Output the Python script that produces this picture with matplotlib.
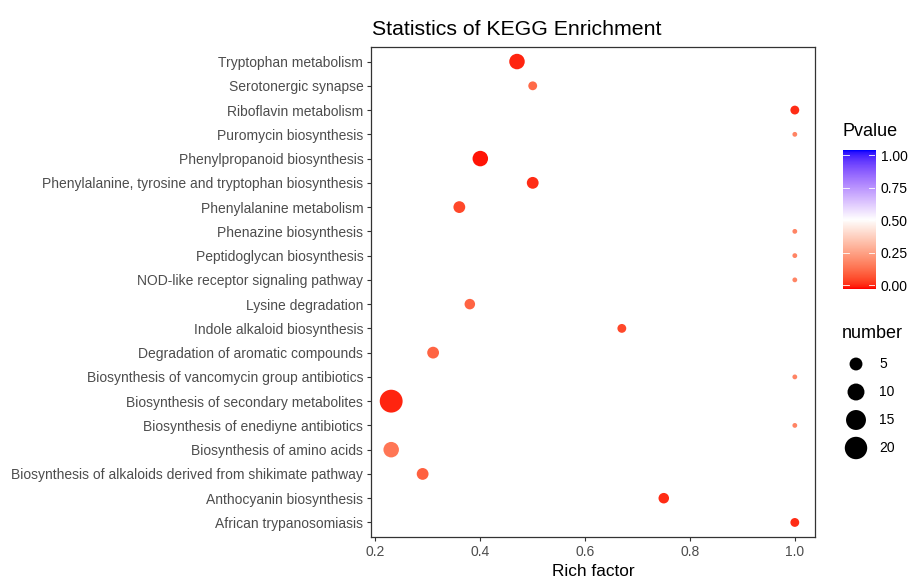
import numpy as np
import matplotlib
matplotlib.use("Agg")
import matplotlib.pyplot as plt
from matplotlib.colors import ListedColormap, Normalize

# pathways listed top to bottom as in the chart
pathways = [
    "Tryptophan metabolism",
    "Serotonergic synapse",
    "Riboflavin metabolism",
    "Puromycin biosynthesis",
    "Phenylpropanoid biosynthesis",
    "Phenylalanine, tyrosine and tryptophan biosynthesis",
    "Phenylalanine metabolism",
    "Phenazine biosynthesis",
    "Peptidoglycan biosynthesis",
    "NOD-like receptor signaling pathway",
    "Lysine degradation",
    "Indole alkaloid biosynthesis",
    "Degradation of aromatic compounds",
    "Biosynthesis of vancomycin group antibiotics",
    "Biosynthesis of secondary metabolites",
    "Biosynthesis of enediyne antibiotics",
    "Biosynthesis of amino acids",
    "Biosynthesis of alkaloids derived from shikimate pathway",
    "Anthocyanin biosynthesis",
    "African trypanosomiasis",
]
rich_factor = [0.47, 0.50, 1.00, 1.00, 0.40, 0.50, 0.36, 1.00, 1.00, 1.00,
               0.38, 0.67, 0.31, 1.00, 0.23, 1.00, 0.23, 0.29, 0.75, 1.00]
gene_number = [8, 2, 2, 1, 8, 4, 4, 1, 1, 1,
               3, 2, 4, 1, 21, 1, 8, 4, 3, 2]
pvalue = [0.02, 0.13, 0.03, 0.19, 0.01, 0.03, 0.07, 0.19, 0.19, 0.19,
          0.12, 0.07, 0.12, 0.19, 0.02, 0.19, 0.16, 0.11, 0.03, 0.03]

size_breaks = [5, 10, 15, 20]
cbar_ticks = [0.0, 0.25, 0.5, 0.75, 1.0]
x_ticks = [0.2, 0.4, 0.6, 0.8, 1.0]

FONT = "Liberation Sans"
GREY = "#4D4D4D"
W, H = 908, 578


# gradient red -> white -> blue, mixed in Lab space like ggplot's gradient2
def srgb_to_lab(rgb):
    c = np.asarray(rgb, float)
    lin = np.where(c <= 0.04045, c / 12.92, ((c + 0.055) / 1.055) ** 2.4)
    m = np.array([[0.4124, 0.3576, 0.1805],
                  [0.2126, 0.7152, 0.0722],
                  [0.0193, 0.1192, 0.9505]])
    xyz = m @ lin / np.array([0.95047, 1.0, 1.08883])
    f = np.where(xyz > 0.008856, np.cbrt(xyz), 7.787 * xyz + 16 / 116)
    return np.array([116 * f[1] - 16, 500 * (f[0] - f[1]), 200 * (f[1] - f[2])])


def lab_to_srgb(lab):
    L, a, b = lab
    fy = (L + 16) / 116
    f = np.array([fy + a / 500, fy, fy - b / 200])
    xyz = np.where(f ** 3 > 0.008856, f ** 3, (f - 16 / 116) / 7.787)
    xyz = xyz * np.array([0.95047, 1.0, 1.08883])
    m = np.array([[3.2406, -1.5372, -0.4986],
                  [-0.9689, 1.8758, 0.0415],
                  [0.0557, -0.2040, 1.0570]])
    lin = np.clip(m @ xyz, 0, 1)
    c = np.where(lin <= 0.0031308, 12.92 * lin, 1.055 * lin ** (1 / 2.4) - 0.055)
    return np.clip(c, 0, 1)


lab_red = srgb_to_lab([1, 0, 0])
lab_white = srgb_to_lab([1, 1, 1])
lab_blue = srgb_to_lab([0, 0, 1])
cols = []
for v in np.linspace(0, 1, 256):
    if v <= 0.5:
        t = v / 0.5
        lab = lab_red + (lab_white - lab_red) * t
    else:
        t = (v - 0.5) / 0.5
        lab = lab_white + (lab_blue - lab_white) * t
    cols.append(lab_to_srgb(lab))
cmap = ListedColormap(cols)
norm = Normalize(0, 1)

# ggplot-like area scale, range 1..6 mm
nmin, nmax = min(gene_number), max(gene_number)


def marker_area(n):
    n = np.asarray(n, float)
    size_mm = 1 + 5 * np.sqrt((n - nmin) / (nmax - nmin))
    d_px = 1.27 * (2.845 * size_mm + 0.945)
    return (d_px * 0.72) ** 2


plt.rcParams["font.family"] = [FONT, "DejaVu Sans"]
fig = plt.figure(figsize=(W / 100, H / 100), dpi=100)

# main panel
ax = fig.add_axes([371 / W, 1 - 537 / H, 444 / W, 490 / H])
ypos = np.arange(len(pathways), 0, -1)
ax.scatter(rich_factor, ypos, s=marker_area(gene_number),
           c=pvalue, cmap=cmap, norm=norm, linewidths=0, zorder=3)
ax.set_xlim(0.1915, 1.0385)
ax.set_ylim(0.4, len(pathways) + 0.6)
ax.set_yticks(ypos)
ax.set_yticklabels(pathways)
ax.set_xticks(x_ticks)
ax.set_xticklabels(["0.2", "0.4", "0.6", "0.8", "1.0"])
ax.tick_params(axis="both", length=3, width=0.8, color="#333333",
               labelsize=10, labelcolor=GREY, pad=2.5)
for sp in ax.spines.values():
    sp.set_color("#333333")
    sp.set_linewidth(0.9)

fig.text(372 / W, 1 - 35 / H, "Statistics of KEGG Enrichment",
         fontsize=15.3, ha="left", va="baseline", color="black")
fig.text(593 / W, 1 - 576 / H, "Rich factor", fontsize=12.4,
         ha="center", va="baseline", color="black")

# colour bar legend
fig.text(842 / W, 1 - 131 / H, "Pvalue", fontsize=13, ha="left", va="center")
cax = fig.add_axes([843 / W, 1 - 289 / H, 32 / W, 139 / H])
grad = np.linspace(0, 1, 300).reshape(-1, 1)
cax.imshow(grad, cmap=cmap, norm=norm, origin="lower", aspect="auto",
           extent=[0, 1, -0.03, 1.04])
cax.set_xlim(0, 1)
cax.set_ylim(-0.03, 1.04)
for tv in cbar_ticks:
    cax.plot([0, 0.2], [tv, tv], color="white", lw=0.6)
    cax.plot([0.8, 1], [tv, tv], color="white", lw=0.6)
cax.set_xticks([])
cax.yaxis.tick_right()
cax.set_yticks(cbar_ticks)
cax.set_yticklabels(["%.2f" % t for t in cbar_ticks])
cax.tick_params(axis="y", length=0, labelsize=10, labelcolor="black", pad=4)
for sp in cax.spines.values():
    sp.set_visible(False)

# size legend
fig.text(842 / W, 1 - 333 / H, "number", fontsize=13, ha="left", va="center")
lax = fig.add_axes([0, 0, 1, 1])
lax.set_xlim(0, W)
lax.set_ylim(H, 0)
lax.axis("off")
ly = [364, 392, 420, 448]
lax.scatter([856] * len(size_breaks), ly, s=marker_area(size_breaks),
            color="black", linewidths=0)
for yy, b in zip(ly, size_breaks):
    lax.text(879, yy, str(b), fontsize=10, ha="left", va="center")

fig.savefig("out.png", dpi=100)
